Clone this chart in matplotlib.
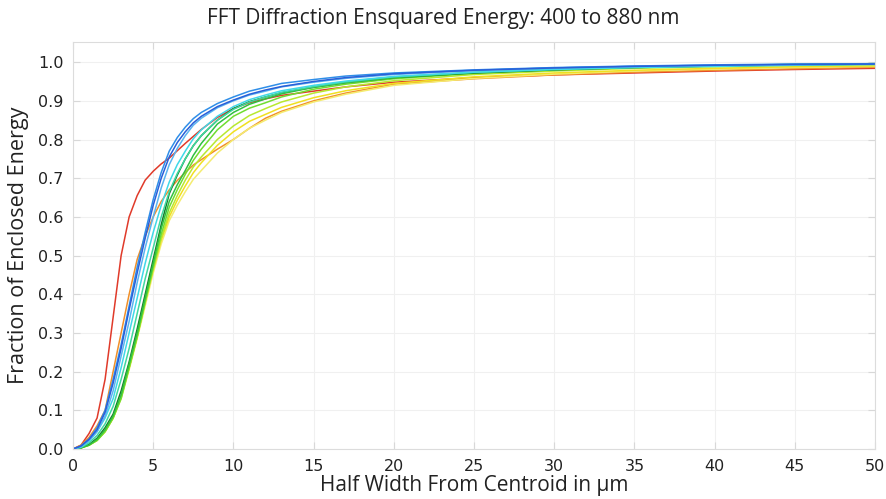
import matplotlib.pyplot as plt

# Half width from centroid (um)
X_UM = [0, 0.5, 1, 1.5, 2, 2.5, 3, 3.5, 4, 4.5, 5, 5.5, 6, 6.5, 7, 7.5, 8,
        9, 10, 11, 12, 13, 15, 17, 20, 25, 30, 35, 40, 45, 50]

# Enclosed energy fraction per wavelength (nm)
EE_400 = [0, .008, .025, .05, .095, .17, .26, .36, .455, .545, .63, .70, .755,
          .792, .82, .843, .86, .885, .902, .917, .928, .937, .95, .96, .97,
          .979, .985, .989, .992, .994, .995]
EE_440 = [0, .008, .026, .055, .10, .18, .27, .37, .47, .56, .645, .715, .77,
          .805, .832, .854, .87, .893, .91, .925, .935, .945, .955, .964, .972,
          .98, .986, .99, .993, .995, .996]
EE_480 = [0, .006, .022, .045, .085, .15, .24, .33, .43, .52, .60, .675, .735,
          .777, .81, .837, .855, .882, .90, .915, .925, .936, .948, .958, .968,
          .978, .985, .989, .992, .994, .995]
EE_520 = [0, .005, .02, .045, .08, .13, .21, .30, .39, .48, .56, .63, .69,
          .735, .77, .802, .825, .86, .885, .903, .915, .926, .94, .951, .963,
          .974, .981, .986, .989, .992, .994]
EE_560 = [0, .004, .016, .035, .065, .11, .18, .26, .35, .44, .52, .60, .665,
          .712, .75, .784, .81, .85, .878, .897, .91, .922, .937, .949, .962,
          .974, .982, .987, .991, .994, .996]
EE_600 = [0, .003, .01, .025, .05, .085, .14, .22, .30, .39, .48, .57, .64,
          .683, .72, .759, .79, .84, .87, .891, .905, .918, .935, .947, .96,
          .973, .981, .987, .991, .994, .996]
EE_640 = [0, .003, .012, .028, .055, .09, .15, .225, .31, .40, .49, .58, .66,
          .708, .75, .784, .81, .85, .88, .898, .91, .921, .935, .947, .96,
          .972, .98, .986, .99, .993, .995]
EE_680 = [0, .003, .01, .022, .045, .08, .13, .21, .29, .38, .47, .555, .625,
          .67, .71, .746, .775, .825, .86, .881, .895, .91, .93, .943, .957,
          .971, .98, .986, .99, .993, .995]
EE_720 = [0, .003, .01, .022, .045, .08, .135, .21, .29, .38, .465, .545, .61,
          .655, .695, .729, .755, .80, .835, .862, .88, .897, .92, .936, .952,
          .968, .977, .984, .988, .991, .993]
EE_760 = [0, .003, .01, .023, .045, .08, .135, .21, .29, .38, .465, .54, .60,
          .643, .68, .714, .74, .785, .82, .847, .865, .883, .908, .926, .945,
          .962, .972, .979, .984, .988, .99]
EE_800 = [0, .003, .01, .023, .045, .08, .13, .205, .285, .37, .455, .53, .59,
          .63, .665, .697, .72, .765, .80, .829, .85, .87, .897, .917, .94,
          .958, .969, .977, .982, .986, .989]
EE_840 = [0, .01, .03, .06, .10, .20, .30, .40, .49, .55, .60, .64, .67,
          .694, .715, .734, .748, .775, .80, .829, .855, .873, .90, .92, .943,
          .957, .967, .974, .979, .983, .987]
EE_880 = [0, .01, .04, .08, .18, .34, .50, .60, .655, .695, .718, .737, .752,
          .771, .79, .808, .826, .857, .88, .895, .905, .914, .925, .936, .948,
          .96, .967, .972, .977, .981, .984]

SERIES = [
    (EE_400, "#2a5fd8"),
    (EE_440, "#2f8ee8"),
    (EE_480, "#5ab4f0"),
    (EE_520, "#40d8e8"),
    (EE_560, "#40d8a0"),
    (EE_600, "#30c040"),
    (EE_640, "#147a2a"),
    (EE_680, "#70dd30"),
    (EE_720, "#b8e830"),
    (EE_760, "#f0e020"),
    (EE_800, "#f4ec70"),
    (EE_840, "#f0902a"),
    (EE_880, "#e03a2a"),
]

XTICKS = list(range(0, 51, 5))
YTICKS = [round(0.1 * i, 1) for i in range(11)]

label_font = "Open Sans"

fig = plt.figure(figsize=(8.86, 4.99), dpi=100)
ax = fig.add_axes([0.0824, 0.1002, 0.9052, 0.8156])

# draw in reverse so blues sit on top, like the reference
for vals, colour in SERIES[::-1]:
    ax.plot(X_UM, vals, color=colour, lw=1.1, solid_capstyle="round")

ax.set_xlim(0, 50)
ax.set_ylim(0, 1.052)
ax.set_xticks(XTICKS)
ax.set_yticks(YTICKS)
ax.set_yticklabels([f"{v:.1f}" for v in YTICKS])
ax.grid(True, color="#f0f0f0", lw=0.8)
ax.set_axisbelow(True)
for s in ax.spines.values():
    s.set_color("#dcdcdc")
    s.set_linewidth(0.8)
ax.tick_params(direction="in", length=5, color="#d8d8d8", width=0.8,
               top=True, right=True, labelsize=11.5, pad=7)
for lab in ax.get_xticklabels() + ax.get_yticklabels():
    lab.set_fontfamily("DejaVu Sans")
    lab.set_color("#222222")

ax.set_xlabel("Half Width From Centroid in µm", fontsize=15,
              family=label_font, color="#222222", labelpad=1)
ax.set_ylabel("Fraction of Enclosed Energy", fontsize=15.5,
              family=label_font, color="#222222", labelpad=6)
fig.text(0.5, 0.962, "FFT Diffraction Ensquared Energy: 400 to 880 nm",
         ha="center", va="center", fontsize=15, family=label_font,
         color="#222222")

fig.savefig("out.png", dpi=100)
